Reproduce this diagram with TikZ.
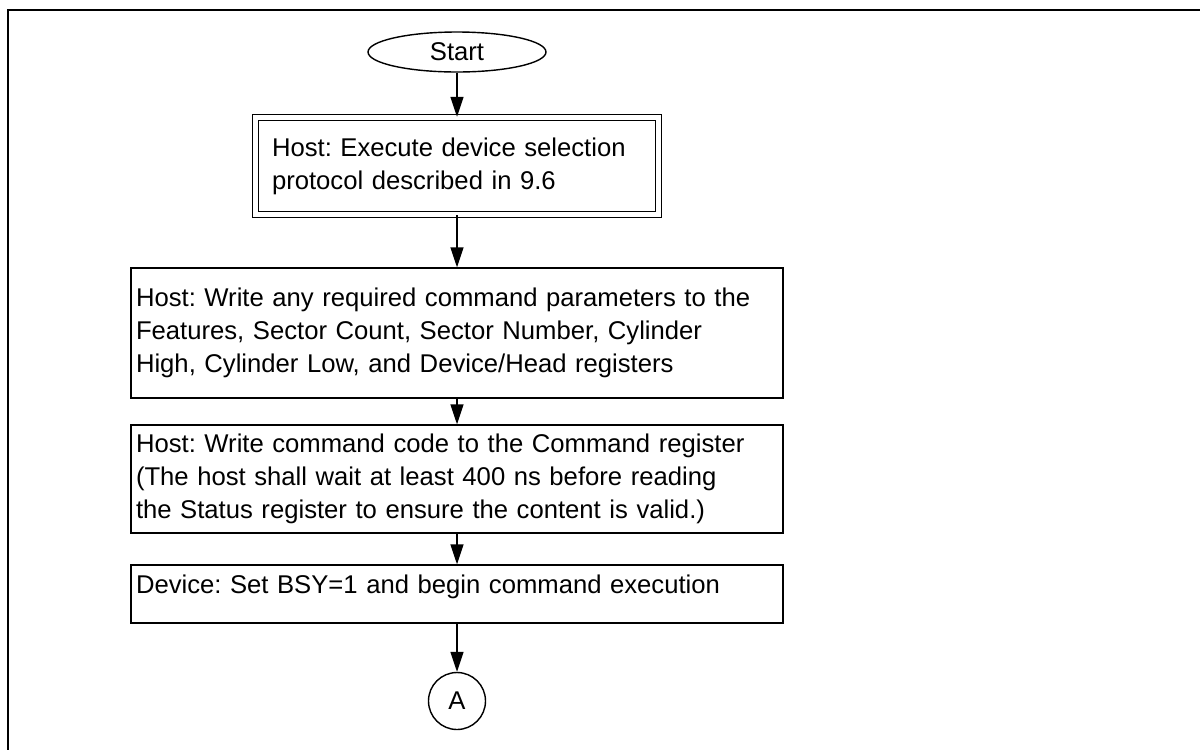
\documentclass[tikz,border=0pt]{standalone}
\usepackage{fontspec}
\setmainfont{Liberation Sans}
\usetikzlibrary{shapes.geometric,arrows.meta}
\frenchspacing
\begin{document}
\begin{tikzpicture}[>={Triangle[length=0.2cm,width=0.13cm]}, font=\fontsize{7.3pt}{9.4pt}\selectfont]
		\tikzstyle{proc box} = [draw, line width=0.4pt, align=left, inner ysep=0pt, text width=6.42cm, inner xsep=0.05cm]
		\useasboundingbox (0,0) rectangle (12,-7.5);
		\draw[line width=0.5pt] (0.08,-7.5) -- (0.08,-0.10) -- (12,-0.10);
	    \node[shape=ellipse,draw=black,line width=0.4pt,minimum width=1.78cm,minimum height=0.40cm,inner sep=0pt] (start) at (4.57,-0.52) {Start};
	    \node[proc box, double, double distance=0.05cm, text width=3.70cm, inner xsep=0.165cm, minimum height=0.97cm] (select) at (4.57,-1.66) {Host: Execute device selection\\protocol described in 9.6};
	    \node[proc box, minimum height=1.30cm] (params) at (4.57,-3.33) {Host: Write any required command parameters to the\\Features, Sector Count, Sector Number, Cylinder\\High, Cylinder Low, and Device/Head registers};
	    \node[proc box, minimum height=1.08cm] (command) at (4.57,-4.79) {Host: Write command code to the Command register\\(The host shall wait at least 400 ns before reading\\the Status register to ensure the content is valid.)};
	    \node[proc box, text height=0.28cm, text depth=0.30cm] (busy) at (4.57,-5.94) {Device: Set BSY=1 and begin command execution};
	    \node[shape=circle,draw=black,line width=0.4pt,minimum size=0.57cm,inner sep=0pt] (A) at (4.57,-7.01) {A};
	    \path [->](start) edge (select);
	    \path [->](select) edge (params);
	    \path [->](params) edge (command);
	    \path [->](command) edge (busy);
	    \path [->](busy) edge (A);
	\end{tikzpicture}
\end{document}
